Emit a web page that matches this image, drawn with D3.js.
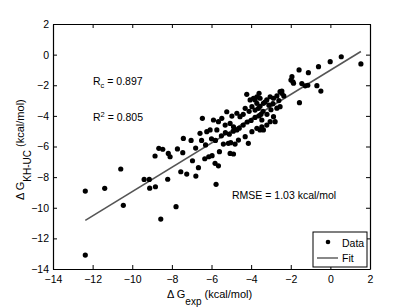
<!DOCTYPE html>
<html>
<head>
<meta charset="utf-8">
<style>
  body { margin: 0; background: #fff; }
  text { font-family: "Liberation Sans", Arial, sans-serif; }
</style>
</head>
<body>
<script src="https://d3js.org/d3.v7.min.js"></script>
<script>
// experimental dG (x) against computed KH-UC dG (y), kcal/mol
var expX = [
  -12.37, -11.39, -10.58, -10.45, -12.37, -9.40, -9.14, -9.12,
  -8.83, -8.21, -7.79, -8.56, -8.85, -8.66, -8.46, -8.18, -8.09, -7.72, -7.45, -7.42, -7.03, -7.55, -7.25, -6.96, -6.79,
  -6.66, -6.34, -6.14, -5.97, -5.82, -5.65, -5.77, -5.60, -5.40, -5.06, -4.89, -5.03, -4.81, -5.15, -4.64, -4.30, -4.14,
  -3.96, -3.71, -3.38, -3.46, -3.21, -3.04, -2.87, -2.79, -3.46, -3.55, -1.56,
  -6.58, -6.46, -6.24, -6.07, -5.90, -5.73, -5.65, -5.48, -5.31, -5.23, -5.06, -4.97, -4.89, -4.72, -4.72, -4.56, -4.30,
  -6.80, -6.50, -6.30, -6.00, -5.80, -5.50, -5.30, -5.10, -4.90, -4.60, -4.40, -4.20, -4.00, -3.80, -3.60,
  -4.22, -4.05, -3.88, -3.71, -3.96, -3.80, -3.63, -3.60, -3.71, -3.55, -3.80, -3.04, -2.87, -2.70, -2.54, -2.45, -2.45,
  -2.54, -3.55, -3.30, -3.10, -2.90, -2.70, -3.00, -3.40, -3.20, -2.60, -2.35, -3.21, -3.38, -3.50, -4.10, -4.40,
  -1.94, -1.99, -1.89, -1.86, -1.58, -1.11, -0.60, -0.01, 0.55, 1.54, -1.44, -1.27, -1.14, -0.68, -0.48
];
var khucY = [
  -8.91, -8.73, -7.47, -9.84, -13.09, -8.15, -8.15, -8.72,
  -8.63, -8.14, -9.93, -10.74, -6.62, -6.12, -6.18, -6.45, -6.67, -6.16, -6.40, -5.47, -5.60, -7.65, -7.80, -6.93, -7.93,
  -7.38, -6.80, -6.67, -6.60, -7.10, -7.26, -8.47, -6.34, -5.84, -6.45, -6.49, -5.75, -5.84, -5.79, -5.58, -5.36, -5.79,
  -5.03, -4.81, -4.92, -4.27, -4.60, -4.38, -4.05, -4.38, -4.71, -4.92, -3.14,
  -5.14, -4.16, -5.03, -4.92, -4.27, -4.92, -4.38, -4.16, -4.60, -3.73, -4.49, -4.01, -4.71, -4.92, -3.83, -4.05, -3.51,
  -6.10, -5.60, -5.90, -5.50, -5.60, -5.30, -5.10, -5.20, -5.00, -4.80, -4.60, -4.40, -4.30, -4.10, -4.00,
  -2.59, -2.96, -2.85, -3.18, -3.40, -3.62, -3.51, -2.53, -2.75, -2.85, -2.96, -2.75, -2.85, -2.70, -2.42, -2.53, -2.38,
  -3.40, -3.37, -3.10, -3.30, -3.20, -3.50, -3.60, -3.70, -3.90, -3.00, -2.70, -2.96, -3.18, -3.90, -3.70, -3.90,
  -1.44, -1.66, -1.77, -1.87, -1.00, -1.18, -0.79, -0.46, -0.14, -0.61, -1.89, -2.04, -2.00, -2.03, -2.38
];
var xTicks = [-14, -12, -10, -8, -6, -4, -2, 0, 2];
var yTicks = [-14, -12, -10, -8, -6, -4, -2, 0, 2];
var fitSlope = 0.793, fitIntercept = -1.015;
var rcText = "0.897", r2Text = "0.805", rmseText = "1.03";

var width = 409, height = 308;
var margin = {top: 24, right: 39, bottom: 39, left: 53};
var w = width - margin.left - margin.right,
    h = height - margin.top - margin.bottom;

var svg = d3.select("body").append("svg")
  .attr("width", width)
  .attr("height", height);

var g = svg.append("g")
  .attr("transform", "translate(" + margin.left + "," + margin.top + ")");

var x = d3.scaleLinear().domain([-14, 2]).range([0, w]);
var y = d3.scaleLinear().domain([-14, 2]).range([h, 0]);

// fit line over the data range
var xExt = d3.extent(expX);
g.append("line")
  .attr("x1", x(xExt[0])).attr("y1", y(fitSlope * xExt[0] + fitIntercept))
  .attr("x2", x(xExt[1])).attr("y2", y(fitSlope * xExt[1] + fitIntercept))
  .attr("stroke", "#555").attr("stroke-width", 1.6);

g.selectAll(".dot")
  .data(d3.range(expX.length))
  .enter().append("circle")
  .attr("class", "dot")
  .attr("cx", function(i) { return x(expX[i]); })
  .attr("cy", function(i) { return y(khucY[i]); })
  .attr("r", 2.6)
  .attr("fill", "#000");

// axes with inward ticks, box on all sides
function styleAxis(sel) {
  sel.selectAll("path").attr("stroke", "#000").attr("stroke-width", 1.2);
  sel.selectAll("line").attr("stroke", "#000");
  sel.selectAll("text").attr("font-size", 10.5).attr("fill", "#000")
    .attr("font-family", '"Liberation Sans", Arial, sans-serif');
}
g.append("g").attr("transform", "translate(0," + h + ")")
  .call(d3.axisBottom(x).tickValues(xTicks).tickSizeInner(-4).tickSizeOuter(0).tickPadding(7))
  .call(styleAxis);
g.append("g")
  .call(d3.axisLeft(y).tickValues(yTicks).tickSizeInner(-4).tickSizeOuter(0).tickPadding(4))
  .call(styleAxis);
g.append("g")
  .call(d3.axisTop(x).tickValues(xTicks).tickSizeInner(-4).tickSizeOuter(0).tickFormat(""))
  .call(styleAxis);
g.append("g").attr("transform", "translate(" + w + ",0)")
  .call(d3.axisRight(y).tickValues(yTicks).tickSizeInner(-4).tickSizeOuter(0).tickFormat(""))
  .call(styleAxis);

// stats text
var rc = g.append("text").attr("x", 40).attr("y", 61).attr("font-size", 10.5);
rc.append("tspan").text("R");
rc.append("tspan").attr("font-size", 7.5).attr("dy", 3).text("c");
rc.append("tspan").attr("dy", -3).text(" = " + rcText);

var r2 = g.append("text").attr("x", 40).attr("y", 97).attr("font-size", 10.5);
r2.append("tspan").text("R");
r2.append("tspan").attr("font-size", 7.5).attr("dy", -4).text("2");
r2.append("tspan").attr("dy", 4).text(" = " + r2Text);

g.append("text").attr("x", 179).attr("y", 175).attr("font-size", 10.5)
  .text("RMSE = " + rmseText + " kcal/mol");

// axis labels
var xl = svg.append("text").attr("x", 167).attr("y", 298).attr("font-size", 11);
xl.append("tspan").text("\u0394 G");
xl.append("tspan").attr("font-size", 10).attr("dy", 7).text("exp");
xl.append("tspan").attr("dy", -7).text(" (kcal/mol)");

var yl = svg.append("text").attr("transform", "translate(24,200) rotate(-90)").attr("font-size", 11);
yl.append("tspan").text("\u0394 G");
yl.append("tspan").attr("font-size", 10).attr("dy", 7).text("KH-UC");
yl.append("tspan").attr("dy", -7).text(" (kcal/mol)");

// legend
var leg = svg.append("g").attr("transform", "translate(313,232)");
leg.append("rect").attr("width", 54).attr("height", 35)
  .attr("fill", "#fff").attr("stroke", "#000").attr("stroke-width", 1);
leg.append("circle").attr("cx", 15).attr("cy", 10).attr("r", 2.3).attr("fill", "#000");
leg.append("text").attr("x", 29).attr("y", 15).attr("font-size", 10.5).text("Data");
leg.append("line").attr("x1", 4).attr("x2", 25).attr("y1", 26).attr("y2", 26)
  .attr("stroke", "#555").attr("stroke-width", 1.4);
leg.append("text").attr("x", 29).attr("y", 30).attr("font-size", 10.5).text("Fit");
</script>
</body>
</html>
